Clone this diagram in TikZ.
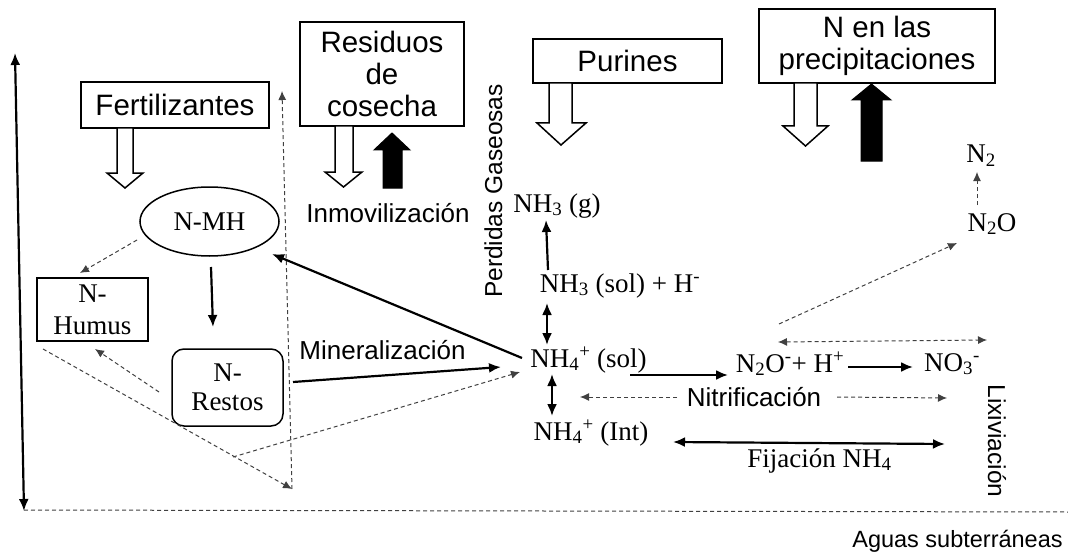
\documentclass[tikz,border=0pt]{standalone}
\usepackage{fontspec}
\setmainfont{Liberation Serif}
\newfontfamily\sansf{Liberation Sans}
\usetikzlibrary{arrows.meta,shapes.geometric}
\begin{document}
\begin{tikzpicture}[x=1pt,y=-1pt,
  box/.style={draw,line width=1.6pt,inner sep=0pt,align=center,font=\sansf\fontsize{29.5}{32}\selectfont},
  chem/.style={inner sep=0pt,font=\fontsize{27}{30}\selectfont,anchor=base},
  lbl/.style={inner sep=0pt,font=\sansf\fontsize{26}{30}\selectfont,anchor=base},
  arr/.style={line width=2.2pt,-{Latex[length=12pt,width=10pt]}},
  darr/.style={line width=2.2pt,{Latex[length=12pt,width=10pt]}-{Latex[length=12pt,width=10pt]}},
  dsh/.style={line width=1pt,black!75,dash pattern=on 4pt off 3pt},
  dtip/.style={-{Latex[length=9pt,width=8pt]}},
  dtip2/.style={{Latex[length=9pt,width=8pt]}-{Latex[length=9pt,width=8pt]}},
  hollow/.style={draw,fill=white,line width=1.5pt,line join=miter},
  blk/.style={draw,fill=black,line width=1pt,line join=miter}]
\useasboundingbox (0,0) rectangle (1068,559);
% boxes
\node[box,minimum width=188pt,minimum height=46pt] (fert) at (175,105) {Fertilizantes};
\node[box,minimum width=164pt,minimum height=104pt] (resid) at (382,74) {Residuos\\de\\cosecha};
\node[box,minimum width=189pt,minimum height=44pt] (pur) at (627.5,61) {Purines};
\node[box,minimum width=236pt,minimum height=74pt] (prec) at (877,46) {N en las\\precipitaciones};
% block arrows
\draw[hollow] (117,128)--(117,173)--(107,173)--(125,188)--(143,173)--(133,173)--(133,128)--cycle;
\draw[hollow] (335,126)--(335,172)--(325,172)--(343.5,187)--(362,172)--(353,172)--(353,126)--cycle;
\draw[blk] (383,188)--(383,150)--(374,150)--(392,133)--(410,150)--(402,150)--(402,188)--cycle;
\draw[hollow] (549,83)--(549,123)--(537,123)--(561,145)--(586,123)--(572,123)--(572,83)--cycle;
\draw[hollow] (794,83)--(794,126)--(783,126)--(805.5,146)--(828,126)--(817,126)--(817,83)--cycle;
\draw[blk] (861,161)--(861,100)--(852,100)--(871.5,84)--(891,100)--(882,100)--(882,161)--cycle;
% organic pools
\node[draw,ellipse,line width=1.5pt,minimum width=139pt,minimum height=69pt,inner sep=0pt,font=\fontsize{27}{30}\selectfont] (mh) at (209.5,221.5) {N-MH};
\node[draw,line width=1.5pt,minimum width=111pt,minimum height=63pt,inner sep=0pt,align=center,font=\fontsize{27}{32}\selectfont] (hum) at (92.5,309.5) {N-\\Humus};
\node[draw,rounded corners=12pt,line width=1.5pt,minimum width=111pt,minimum height=77pt,inner sep=0pt,align=center,font=\fontsize{27}{29}\selectfont] (rest) at (227.5,387.5) {N-\\Restos};
% chemical species
\node[chem] (nh3g) at (557,212) {NH\textsubscript{3} (g)};
\node[chem] (nh3sol) at (620,292) {NH\textsubscript{3} (sol) + H\textsuperscript{-}};
\node[chem] (nh4sol) at (588.5,367) {NH\textsubscript{4}\textsuperscript{+} (sol)};
\node[chem] (nh4int) at (591,440) {NH\textsubscript{4}\textsuperscript{+} (Int)};
\node[chem] (n2oh) at (790,372) {N\textsubscript{2}O\textsuperscript{-}+ H\textsuperscript{+}};
\node[chem] (no3) at (952,371) {NO\textsubscript{3}\textsuperscript{-}};
\node[chem] (n2o) at (992,231) {N\textsubscript{2}O};
\node[chem] (n2) at (981,163) {N\textsubscript{2}};
\node[chem] (fij) at (819.5,467) {Fijación NH\textsubscript{4}};
% labels
\node[lbl] (inmo) at (388,222) {Inmovilización};
\node[lbl] (mine) at (382.5,359) {Mineralización};
\node[lbl] (nitr) at (754,406) {Nitrificación};
\node[lbl,font=\sansf\fontsize{23.5}{28}\selectfont] (aguas) at (957.5,547) {Aguas subterráneas};
\node[lbl,font=\sansf\fontsize{24.5}{28}\selectfont,rotate=90] (perd) at (502,191) {Perdidas Gaseosas};
\node[lbl,font=\sansf\fontsize{24.5}{28}\selectfont,rotate=-90] (lixi) at (988,441) {Lixiviación};
% connector end points
\coordinate (ltop) at (15,53);
\coordinate (lbot) at (24,511);
\coordinate (gl) at (24,510);
\coordinate (gr) at (1068,512);
\coordinate (vbot) at (292,489);
\coordinate (vtop) at (282,91);
\coordinate (humsw) at (43,349);
\coordinate (restdash) at (233,457);
\coordinate (n2oa) at (779,324);
\coordinate (n2ob) at (957,243);
\coordinate (lixa) at (778,342);
\coordinate (lixb) at (987,340);
% main connectors
\draw[darr] (lbot) -- (ltop);
\draw[dsh] (gl) -- (gr);
\draw[dsh,dtip] (vbot) -- (vtop);
\draw[dsh,dtip] (humsw) -- (vbot);
\draw[dsh,dtip] (restdash) -- (520,372);
\draw[dsh,dtip] (137,240) -- (80,273);
\draw[arr] (211,267) -- (213,327);
\draw[dsh,dtip] (159,392) -- (95,349);
\draw[arr] (293,382) -- (501,367);
\draw[arr] (522,358) -- (272,254);
\draw[arr] (548,270) -- (546,220);
\draw[darr] (547,303) -- (547,345);
\draw[darr] (552,374) -- (552,416);
\draw[arr] (630,375) -- (728,375);
\draw[arr] (848,367) -- (913,367);
\draw[dsh,dtip] (677,397) -- (580,397);
\draw[dsh,dtip] (837,397) -- (947,398);
\draw[darr] (673,442) -- (945,444);
\draw[dsh,dtip2] (lixa) -- (lixb);
\draw[dsh,dtip] (n2oa) -- (n2ob);
\draw[dsh,dtip] (977,205) -- (977,172);
\end{tikzpicture}
\end{document}
